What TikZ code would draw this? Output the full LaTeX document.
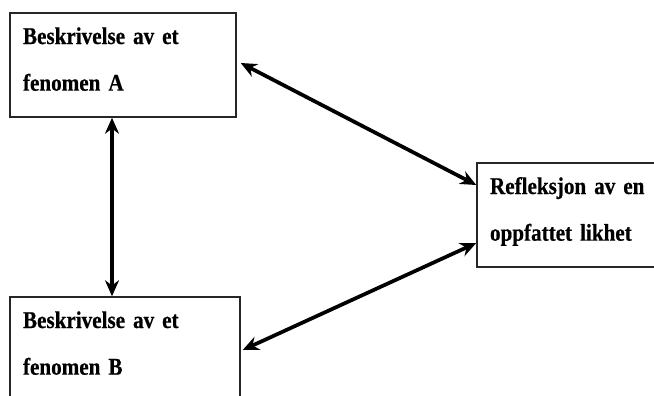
\documentclass[tikz,border=0pt]{standalone}
\usepackage{fontspec}
\setmainfont[FakeStretch=0.88, BoldFeatures={FakeBold=0.6}]{Liberation Serif}
\usetikzlibrary{arrows.meta, positioning}

\begin{document}
\begin{tikzpicture}[
  x=0.75pt, y=-0.75pt,
  %% Description box
  box/.style={
    rectangle, draw=black!85, line width=1.1pt,
    minimum height=78pt,
    align=left, inner xsep=9.75pt, inner ysep=0pt,
    text height=12pt, text depth=43.5pt,
    font=\bfseries\fontsize{18}{35}\selectfont
  },
  %% Two-way arrow
  darr/.style={{Stealth[length=12pt,width=10.5pt]}-{Stealth[length=12pt,width=10.5pt]},
    line width=2.8pt},
]

%% ── canvas ────────────────────────────────────────────────────────────────
\useasboundingbox (0,0) rectangle (654,396);
\clip (0,0) rectangle (654,396);

%% ── BOXES ─────────────────────────────────────────────────────────────────
\node[box, text width=150pt] (A) at (123,65)
  {Beskrivelse av et\\ fenomen A};
\node[box, text width=153pt] (B) at (125,349)
  {Beskrivelse av et\\ fenomen B};
\node[box, text width=123pt] (R) at (572,215)
  {Refleksjon av en\\ oppfattet likhet};

%% ── ARROWS ────────────────────────────────────────────────────────────────
\draw[darr] ([xshift=3pt,yshift=1.5pt]A.east) -- ([yshift=22.5pt]R.west);
\draw[darr] ([xshift=-8.25pt]A.south) -- ([xshift=-9.75pt]B.north);
\draw[darr] ([xshift=1.5pt,yshift=-0.75pt]B.east) -- ([yshift=-21pt]R.west);

\end{tikzpicture}
\end{document}
